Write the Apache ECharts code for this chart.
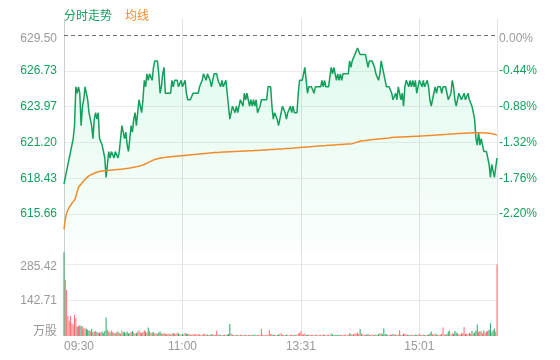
<!DOCTYPE html>
<html>
<head>
<meta charset="utf-8">
<script src="https://cdn.jsdelivr.net/npm/echarts@6/dist/echarts.min.js"></script>
<style>html,body{margin:0;padding:0;background:#fff;}#c{width:560px;height:360px;}</style>
</head>
<body>
<div id="c"></div>
<script>
// ---- data ----
const preClose = 629.50;
const xTickLabels = ['09:30', '11:00', '13:31', '15:01'];
const priceTickLabels = ['615.66', '618.43', '621.20', '623.97', '626.73', '629.50'];
const pctTickLabels = ['-2.20%', '-1.76%', '-1.32%', '-0.88%', '-0.44%', '0.00%'];
const volTickLabels = ['万股', '142.71', '285.42'];

const price = [
618.0,618.5,619.0,619.5,619.5,620.5,621.0,621.5,622.5,625.5,
625.0,625.5,625.0,622.5,624.0,624.5,625.5,625.0,624.5,623.5,
623.5,622.5,621.5,623.0,623.5,623.0,623.5,621.5,621.5,621.0,
621.0,620.0,618.5,619.5,620.5,620.0,620.5,620.5,620.0,620.5,
620.5,620.0,620.5,621.5,622.5,622.0,621.5,622.0,621.0,620.5,
621.5,622.5,622.0,623.0,623.5,622.5,623.5,624.5,624.5,623.5,
624.5,626.0,625.5,626.5,626.0,626.5,626.5,626.0,627.0,627.5,
627.5,627.5,626.5,625.0,625.5,626.5,627.0,625.0,625.0,625.0,
625.0,625.0,626.0,625.5,626.0,626.0,626.0,625.5,625.5,626.0,
625.5,625.5,626.0,625.0,624.5,624.5,624.5,624.5,625.0,625.0,
625.0,625.0,625.0,625.5,625.5,626.0,626.5,626.5,626.0,626.5,
626.5,626.0,625.5,626.0,626.5,626.5,626.5,626.0,626.0,625.5,
626.0,625.5,625.5,626.0,625.0,624.0,623.0,623.5,624.0,624.0,
623.5,624.0,623.5,624.0,624.5,624.5,624.0,625.0,624.5,625.0,
624.5,624.0,624.5,624.0,624.5,624.0,624.5,623.5,623.5,624.0,
624.5,624.5,624.5,624.5,624.5,625.5,625.5,625.5,624.0,623.0,
623.5,623.5,623.0,622.5,623.0,623.5,624.0,624.0,623.5,623.0,
623.5,623.5,624.0,623.5,624.0,623.5,623.5,623.5,625.0,626.0,
626.0,626.0,626.0,627.0,626.0,625.0,625.5,625.5,625.5,625.5,
625.0,625.5,625.5,625.5,625.5,625.5,626.0,625.5,626.0,625.5,
625.5,625.5,625.5,627.0,626.5,627.0,626.5,626.0,626.5,626.0,
626.5,626.0,626.5,626.5,626.5,626.5,626.5,627.5,627.0,627.5,
627.5,628.0,628.0,628.5,628.5,628.0,628.0,628.0,628.0,628.0,
627.5,627.0,627.5,627.5,627.5,627.5,627.0,626.5,626.5,626.0,
626.5,627.5,627.0,626.5,626.0,625.5,625.5,625.5,625.5,625.0,
624.5,624.5,625.0,624.5,625.5,625.5,624.5,625.0,624.0,625.5,
626.0,626.0,625.5,626.0,625.5,626.0,625.5,626.0,625.0,625.5,
626.0,626.0,625.5,626.0,625.5,625.5,626.0,625.5,624.5,624.0,
624.5,625.0,625.5,625.0,625.5,625.5,625.5,625.0,625.5,625.5,
625.5,625.0,624.5,624.5,625.0,626.0,625.5,624.5,624.0,624.5,
625.0,625.0,624.5,624.5,625.0,624.5,624.5,625.0,624.5,624.5,
624.0,624.0,623.0,621.5,621.0,622.0,621.0,621.5,621.5,620.5,
620.5,620.5,620.0,619.5,618.5,619.5,619.0,618.5,618.5,620.0
];

const avgPrice = [
614.50,615.30,615.75,616.00,616.20,616.35,616.50,616.60,616.75,617.00,
617.40,617.75,617.90,618.00,618.15,618.25,618.35,618.45,618.55,618.62,
618.68,618.73,618.78,618.82,618.86,618.90,618.93,618.96,618.99,619.00,
619.01,619.02,619.03,619.04,619.05,619.06,619.07,619.08,619.09,619.10,
619.11,619.12,619.13,619.14,619.15,619.16,619.17,619.19,619.20,619.21,
619.22,619.24,619.26,619.28,619.30,619.32,619.34,619.37,619.40,619.43,
619.46,619.50,619.55,619.60,619.65,619.70,619.75,619.80,619.84,619.88,
619.91,619.94,619.96,619.98,620.00,620.02,620.03,620.05,620.06,620.07,
620.08,620.09,620.10,620.11,620.12,620.13,620.14,620.15,620.16,620.17,
620.18,620.19,620.20,620.21,620.22,620.23,620.24,620.25,620.26,620.27,
620.28,620.29,620.30,620.31,620.32,620.33,620.34,620.35,620.36,620.37,
620.38,620.39,620.40,620.41,620.41,620.42,620.43,620.43,620.44,620.45,
620.45,620.46,620.47,620.47,620.48,620.48,620.49,620.49,620.50,620.50,
620.51,620.51,620.52,620.52,620.53,620.53,620.54,620.54,620.55,620.55,
620.56,620.56,620.57,620.57,620.58,620.58,620.59,620.59,620.60,620.60,
620.61,620.61,620.62,620.62,620.63,620.64,620.64,620.65,620.65,620.66,
620.67,620.67,620.68,620.69,620.69,620.70,620.71,620.71,620.72,620.73,
620.73,620.74,620.75,620.75,620.76,620.77,620.78,620.79,620.80,620.81,
620.82,620.83,620.84,620.84,620.85,620.86,620.87,620.87,620.88,620.89,
620.90,620.90,620.91,620.92,620.93,620.93,620.94,620.95,620.96,620.96,
620.97,620.98,620.99,620.99,621.00,621.01,621.02,621.02,621.03,621.04,
621.05,621.05,621.06,621.07,621.07,621.08,621.09,621.09,621.10,621.11,
621.14,621.17,621.20,621.23,621.26,621.29,621.31,621.33,621.34,621.35,
621.37,621.38,621.39,621.41,621.42,621.43,621.44,621.45,621.46,621.47,
621.48,621.49,621.50,621.51,621.52,621.53,621.54,621.55,621.57,621.58,
621.59,621.60,621.60,621.61,621.61,621.62,621.62,621.63,621.63,621.64,
621.64,621.65,621.65,621.66,621.66,621.67,621.67,621.68,621.68,621.69,
621.69,621.70,621.70,621.71,621.71,621.72,621.72,621.73,621.74,621.74,
621.75,621.76,621.77,621.77,621.78,621.79,621.80,621.80,621.81,621.82,
621.82,621.83,621.84,621.85,621.85,621.86,621.87,621.87,621.88,621.89,
621.89,621.90,621.91,621.91,621.92,621.92,621.93,621.93,621.94,621.94,
621.95,621.95,621.95,621.95,621.95,621.95,621.95,621.95,621.94,621.94,
621.94,621.93,621.92,621.91,621.89,621.87,621.85,621.83,621.80,621.77
];

const volume = [
332,222,182,79,60,79,50,45,83,70,
37,40,42,40,38,30,32,28,25,22,
20,28,15,18,20,16,12,14,15,18,
12,20,73,25,18,14,22,16,12,10,
14,18,12,10,22,15,16,12,18,10,
12,16,20,14,10,12,18,22,14,12,
16,24,18,14,34,20,12,14,16,10,
12,8,14,18,10,9,12,8,7,10,
8,6,10,12,9,8,14,10,7,6,
8,6,12,10,8,9,6,5,7,8,
6,5,8,6,4,5,7,9,5,6,
4,5,6,8,5,4,21,6,4,5,
3,4,5,4,6,8,48,10,5,4,
3,5,4,3,6,4,3,5,4,3,
4,3,5,4,3,6,4,3,4,5,
29,5,4,3,4,6,24,8,6,4,
5,3,4,6,8,10,5,4,3,6,
4,3,5,4,6,3,4,5,10,12,
20,8,6,9,5,4,6,3,4,5,
3,4,6,3,4,5,3,6,4,3,
5,4,3,10,6,4,5,3,4,6,
4,3,5,4,6,3,5,12,8,6,
7,10,9,14,8,28,10,6,5,4,
6,8,5,4,6,5,3,6,4,8,
10,12,6,31,8,6,5,4,6,5,
8,5,7,4,6,23,5,4,8,10,
6,5,4,6,3,5,4,6,4,5,
8,5,4,6,4,3,6,5,10,18,
6,8,10,5,6,4,5,8,34,6,
5,8,18,22,6,12,8,20,14,10,
8,6,10,12,36,8,10,6,12,9,
20,10,14,22,46,15,20,18,10,22,
14,18,20,25,51,15,22,30,18,284
];

// time categories (HK session: 09:30-11:59, 13:01-16:00)
function hm(m){const h=Math.floor(m/60), mm=m%60; return (h<10?'0':'')+h+':'+(mm<10?'0':'')+mm;}
const times = [];
for (let m = 9*60+30; m < 12*60; m++) times.push(hm(m));
for (let m = 13*60+1; m <= 16*60; m++) times.push(hm(m));

// ---- chart ----
const GREEN = '#14a05c', ORANGE = '#f28b2a', GRAY = '#999999';
const RED_BAR = '#ff6e6e', GREEN_BAR = '#2aa865';
const FONT = '"Liberation Sans", Arial, "Noto Sans CJK SC", sans-serif';
const priceMin = 612.8968, pctMin = -2.64, pctStep = 0.44, volStep = 142.71;

const chart = echarts.init(document.getElementById('c'), null, {renderer: 'canvas'});
const isTick = (i) => xTickLabels.indexOf(times[i]) >= 0;

chart.setOption({
  animation: false,
  textStyle: {fontFamily: FONT},
  legend: {
    left: 53, top: 4, itemWidth: 0, itemHeight: 0, itemGap: 7, selectedMode: false,
    textStyle: {fontSize: 12, fontFamily: '"Noto Sans CJK SC", sans-serif'},
    data: [
      {name: '分时走势', textStyle: {color: GREEN}},
      {name: '均线', textStyle: {color: ORANGE}}
    ]
  },
  grid: [
    {left: 64, right: 63, top: 35, height: 215},
    {left: 64, right: 63, top: 250, height: 86},
    {left: 64, right: 63, top: 19, height: 317}
  ],
  xAxis: [
    {type: 'category', gridIndex: 0, data: times, boundaryGap: false, show: false},
    {type: 'category', gridIndex: 1, data: times, boundaryGap: false, show: false},
    {type: 'category', gridIndex: 2, data: times, boundaryGap: false,
      axisLine: {show: false}, axisTick: {show: false},
      axisLabel: {interval: (i) => isTick(i), color: GRAY, fontSize: 12, margin: 5, alignMinLabel: 'left'},
      splitLine: {show: true, interval: (i) => isTick(i) || i === times.length - 1, lineStyle: {color: '#e2e2e2', width: 1}}
    }
  ],
  yAxis: [
    {type: 'value', gridIndex: 0, min: priceMin, max: preClose, show: false},
    {type: 'value', gridIndex: 0, min: pctMin, max: 0, interval: pctStep, position: 'left',
      axisLine: {show: false}, axisTick: {show: false},
      axisLabel: {margin: 7, showMinLabel: false,
        formatter: (v) => {const k = Math.round((v - pctMin) / pctStep); const t = priceTickLabels[k - 1]; return k === 6 ? '{top|' + t + '}' : '{g|' + t + '}';},
        rich: {top: {color: GRAY, fontSize: 12, padding: [7, 0, 0, 0]}, g: {color: GREEN, fontSize: 12}}},
      splitLine: {show: true, showMinLine: false, showMaxLine: false, lineStyle: {color: '#ebebeb'}}
    },
    {type: 'value', gridIndex: 0, min: pctMin, max: 0, interval: pctStep, position: 'right',
      axisLine: {show: false}, axisTick: {show: false},
      axisLabel: {margin: 2, showMinLabel: false,
        formatter: (v) => {const k = Math.round((v - pctMin) / pctStep); const t = pctTickLabels[k - 1]; return k === 6 ? '{top|' + t + '}' : '{g|' + t + '}';},
        rich: {top: {color: GRAY, fontSize: 12, padding: [7, 0, 0, 0]}, g: {color: GREEN, fontSize: 12}}},
      splitLine: {show: false}
    },
    {type: 'value', gridIndex: 1, min: 0, max: 341, interval: volStep,
      axisLine: {show: false}, axisTick: {show: false},
      axisLabel: {margin: 7, showMaxLabel: false,
        formatter: (v) => {const k = Math.round(v / volStep); const t = volTickLabels[k]; return k === 0 ? '{u|' + t + '}' : (k === 2 ? '{a|' + t + '}' : '{b|' + t + '}');},
        rich: {u: {color: GRAY, fontSize: 12, padding: [0, 0, 12, 0], fontFamily: '"Noto Sans CJK SC", sans-serif'},
               a: {color: GRAY, fontSize: 12, padding: [6, 0, 0, 0]},
               b: {color: GRAY, fontSize: 12, padding: [2, 0, 0, 0]}}},
      splitLine: {show: true, showMinLine: false, showMaxLine: false, lineStyle: {color: '#ebebeb'}}
    },
    {type: 'value', gridIndex: 2, min: 0, max: 1,
      axisLine: {show: true, lineStyle: {color: '#cfcfcf'}}, axisTick: {show: false},
      axisLabel: {show: false}, splitLine: {show: false}
    }
  ],
  series: [
    {name: '分时走势', type: 'line', xAxisIndex: 0, yAxisIndex: 0, data: price,
      showSymbol: false, symbol: 'none', z: 3,
      lineStyle: {color: GREEN, width: 1.5}, itemStyle: {color: GREEN},
      areaStyle: {origin: 'start', color: new echarts.graphic.LinearGradient(0, 0, 0, 1, [
        {offset: 0, color: 'rgba(40,220,130,0.20)'},
        {offset: 1, color: 'rgba(40,220,130,0.03)'}
      ])},
      markLine: {silent: true, symbol: 'none', label: {show: false},
        lineStyle: {color: '#707070', type: [4, 3], width: 1},
        data: [{yAxis: preClose}]}
    },
    {name: '均线', type: 'line', xAxisIndex: 0, yAxisIndex: 0, data: avgPrice,
      showSymbol: false, symbol: 'none', z: 4,
      lineStyle: {color: ORANGE, width: 1.5}, itemStyle: {color: ORANGE}
    },
    {name: '成交量', type: 'bar', xAxisIndex: 1, yAxisIndex: 3, data: volume, barWidth: 1,
      itemStyle: {color: (p) => {const i = p.dataIndex; if (i === 0) return GREEN_BAR; return price[i] >= price[i - 1] ? RED_BAR : GREEN_BAR;}}
    }
  ]
});
</script>
</body>
</html>
